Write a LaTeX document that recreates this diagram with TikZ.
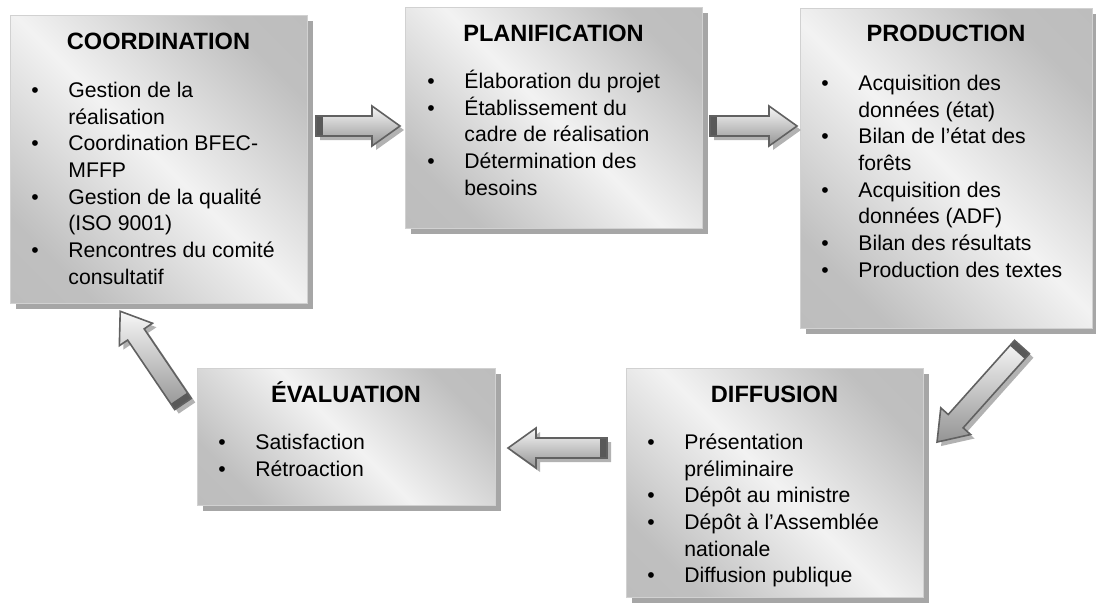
\documentclass[tikz,border=0pt]{standalone}
\usepackage{fontspec}
\setmainfont{Liberation Sans}
\usetikzlibrary{backgrounds}

\pgfdeclarehorizontalshading{stagegrad}{100bp}{color(0bp)=(black!27); color(25bp)=(black!25); color(50bp)=(black!5); color(75bp)=(black!25); color(100bp)=(black!27)}

\newcommand{\bulitem}{\rule{0pt}{10.5pt}\makebox[18.5pt][l]{\textbullet}}
\newcommand{\bulcont}{\hspace*{18.5pt}}

\tikzset{
  stage/.style={rectangle, draw=black!18, line width=0.5pt, anchor=north west,
    inner sep=0pt, outer sep=0pt, minimum width=148.5pt,
    shading=stagegrad, shading angle=45},
  stageshadow/.style={fill=black!35},
  stagetitle/.style={font=\fontsize{11.8}{14}\selectfont\bfseries, inner sep=0pt,
    text height=8.5pt, text depth=0pt},
  stagelist/.style={font=\fontsize{10.6}{13.33}\selectfont, align=left,
    anchor=north west, inner sep=0pt},
  arrowbody/.style={top color=black!3, bottom color=black!42},
  arrowline/.style={draw=black!62, line width=0.8pt, line join=miter},
  arrowshade/.style={fill=black!30},
  arrowcap/.style={fill=black!65},
  pics/flowarrow/.style 2 args={code={
    % shadow, body, dark tail, outline
    \fill[arrowshade, shift={(4,-4)}, rotate=#2] (0,10) -- (#1-28,10) -- (#1-28,20) -- (#1,0)
      -- (#1-28,-20) -- (#1-28,-10) -- (0,-10) -- cycle;
    \shade[arrowbody, rotate=#2] (0,10) -- (#1-28,10) -- (#1-28,20) -- (#1,0)
      -- (#1-28,-20) -- (#1-28,-10) -- (0,-10) -- cycle;
    \fill[arrowcap, rotate=#2] (0,-10) rectangle (7,10);
    \draw[arrowline, rotate=#2] (0,10) -- (#1-28,10) -- (#1-28,20) -- (#1,0)
      -- (#1-28,-20) -- (#1-28,-10) -- (0,-10) -- cycle;
  }}
}

\begin{document}
\begin{tikzpicture}[x=0.5pt, y=0.5pt]
\useasboundingbox (0,0) rectangle (1096,-602);

% stages
\node[stage, minimum height=144pt] (coord) at (10,-15) {};
\node[stage, minimum height=110.5pt] (plan) at (405,-7) {};
\node[stage, minimum height=160pt, minimum width=146pt] (prod) at (800,-8) {};
\node[stage, minimum height=114.5pt] (diff) at (626,-368) {};
\node[stage, minimum height=68.5pt, minimum width=149pt] (eval) at (197,-368) {};

% shadows behind the stages
\begin{scope}[on background layer]
  \foreach \stg in {coord,plan,prod,diff,eval}
    \fill[stageshadow] ([shift={(3pt,-3pt)}]\stg.south west) rectangle ([shift={(3pt,-3pt)}]\stg.north east);
\end{scope}

% titles
\node[stagetitle] (coordT) at ([yshift=-13pt]coord.north) {COORDINATION};
\node[stagetitle] (planT) at ([yshift=-13pt]plan.north) {PLANIFICATION};
\node[stagetitle] (prodT) at ([yshift=-12.5pt]prod.north) {PRODUCTION};
\node[stagetitle] (diffT) at ([yshift=-13pt]diff.north) {DIFFUSION};
\node[stagetitle] (evalT) at ([yshift=-13pt]eval.north) {ÉVALUATION};

% lists
\node[stagelist] (coordL) at ([xshift=10.5pt, yshift=-30.5pt]coord.north west) {%
  \bulitem Gestion de la\\ \bulcont réalisation\\
  \bulitem Coordination BFEC-\\ \bulcont MFFP\\
  \bulitem Gestion de la qualité\\ \bulcont (ISO 9001)\\
  \bulitem Rencontres du comité\\ \bulcont consultatif};
\node[stagelist] (planL) at ([xshift=11pt, yshift=-30pt]plan.north west) {%
  \bulitem Élaboration du projet\\
  \bulitem Établissement du\\ \bulcont cadre de réalisation\\
  \bulitem Détermination des\\ \bulcont besoins};
\node[stagelist] (prodL) at ([xshift=10.5pt, yshift=-30.5pt]prod.north west) {%
  \bulitem Acquisition des\\ \bulcont données (état)\\
  \bulitem Bilan de l’état des\\ \bulcont forêts\\
  \bulitem Acquisition des\\ \bulcont données (ADF)\\
  \bulitem Bilan des résultats\\
  \bulitem Production des textes};
\node[stagelist] (diffL) at ([xshift=10.5pt, yshift=-30pt]diff.north west) {%
  \bulitem Présentation\\ \bulcont préliminaire\\
  \bulitem Dépôt au ministre\\
  \bulitem Dépôt à l’Assemblée\\ \bulcont nationale\\
  \bulitem Diffusion publique};
\node[stagelist] (evalL) at ([xshift=10.5pt, yshift=-30pt]eval.north west) {%
  \bulitem Satisfaction\\
  \bulitem Rétroaction};

% cycle arrows
\coordinate (a1) at (316,-126);
\coordinate (a2) at (710,-126);
\coordinate (a3) at (1022,-347);
\coordinate (a4) at (607,-448);
\coordinate (a5) at (183,-404);
\pic at (a1) {flowarrow={84}{0}};
\pic at (a2) {flowarrow={87}{0}};
\pic at (a3) {flowarrow={127.5}{228.2}};
\pic at (a4) {flowarrow={99}{180}};
\pic at (a5) {flowarrow={112}{124.1}};
\end{tikzpicture}
\end{document}
